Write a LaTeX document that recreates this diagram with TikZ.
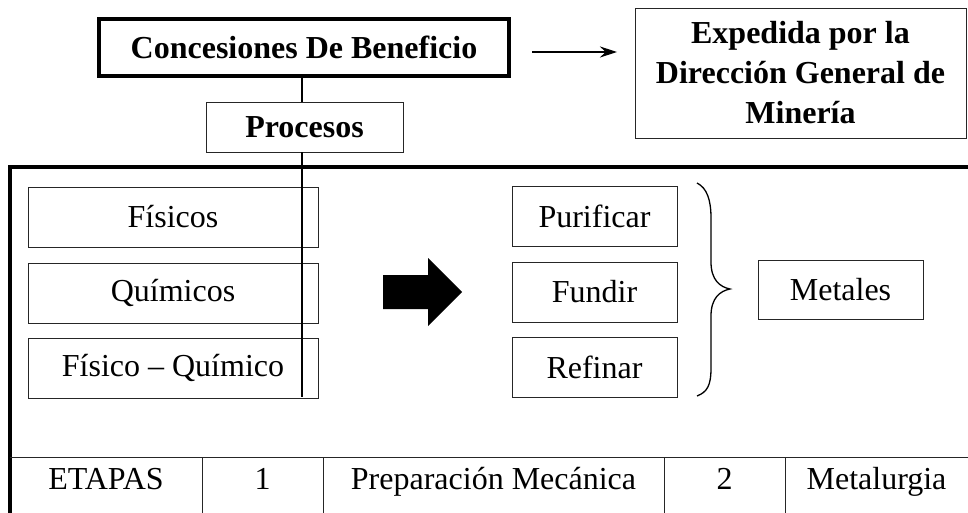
\documentclass[tikz,border=0pt]{standalone}
\usepackage{fontspec}
\setmainfont{Liberation Serif}
\usetikzlibrary{arrows.meta}
\begin{document}
\begin{tikzpicture}[x=1pt,y=-1pt,
  txt/.style={font=\fontsize{32}{39}\selectfont, inner sep=0pt},
  thinbox/.style={txt, draw=black!85, line width=0.9pt},
  thick frame/.style={line width=3.5pt},
  tbl/.style={line width=0.9pt, draw=black!85}]
\useasboundingbox (0,0) rectangle (968,513);
% top nodes
\node[txt, draw, line width=4pt, minimum width=410, minimum height=57, font=\fontsize{32}{39}\selectfont\bfseries] (conc) at (304,47.5) {Concesiones De Beneficio};
\node[thinbox, minimum width=331, minimum height=130, align=center, font=\fontsize{32}{40}\selectfont\bfseries] (exp) at (800.5,73) {Expedida por la\\Dirección General de\\Minería};
\coordinate (arS) at (532,52);
\coordinate (arE) at (617,52);
\draw[line width=1.2pt, -{Stealth[length=17pt,width=11pt]}] (arS) -- (arE);
\node[thinbox, minimum width=197, minimum height=50, font=\fontsize{32}{39}\selectfont\bfseries] (proc) at (304.5,127) {Procesos};
% frame
\coordinate (fTL) at (10,167);
\coordinate (fTR) at (970,167);
\coordinate (fBL) at (10,515);
\draw[thick frame] (fTR) -- (fTL) -- (fBL);
% left boxes
\node[thinbox, minimum width=290, minimum height=60] (fis) at (173,217) {Físicos};
\node[thinbox, minimum width=290, minimum height=60] (qui) at (173,293) {Químicos};
\node[thinbox, minimum width=290, minimum height=60] (fq) at (173,368) {Físico – Químico};
% vertical connector
\coordinate (vend) at (302,397);
\draw[line width=1.8pt] (conc.south -| vend) -- (proc.north -| vend);
\draw[line width=1.8pt] (proc.south -| vend) -- (vend);
% big arrow
\fill (383,275) -- (428,275) -- (428,258) -- (462,292) -- (428,326) -- (428,309) -- (383,309) -- cycle;
% right boxes
\node[thinbox, minimum width=165, minimum height=60] (pur) at (594.5,216) {Purificar};
\node[thinbox, minimum width=165, minimum height=60] (fun) at (594.5,292) {Fundir};
\node[thinbox, minimum width=165, minimum height=60] (ref) at (594.5,367) {Refinar};
% brace
\coordinate (bTop) at (697,183);
\coordinate (bTip) at (730,289);
\coordinate (bBot) at (697,396);
\draw[line width=1.3pt] (bTop) .. controls (707,188) and (711,200) .. (711,218)
  -- (711,262) .. controls (711,280) and (720,287) .. (bTip)
  .. controls (720,291) and (711,298) .. (711,316)
  -- (711,368) .. controls (711,386) and (707,392) .. (bBot);
\node[thinbox, minimum width=165, minimum height=59] (met) at (840.5,289.5) {Metales};
% bottom table
\coordinate (tL) at (10,457);
\coordinate (tR) at (970,457);
\draw[tbl] (tL) -- (tR);
\foreach \xx in {202,323,664,785} {\draw[tbl] (\xx,457) -- (\xx,515);}
\node[txt, anchor=base] (c1) at (106,489) {ETAPAS};
\node[txt, anchor=base] (c2) at (262.5,489) {1};
\node[txt, anchor=base] (c3) at (493.5,489) {Preparación Mecánica};
\node[txt, anchor=base] (c4) at (724.5,489) {2};
\node[txt, anchor=base] (c5) at (876.5,489) {Metalurgia};
\end{tikzpicture}
\end{document}
